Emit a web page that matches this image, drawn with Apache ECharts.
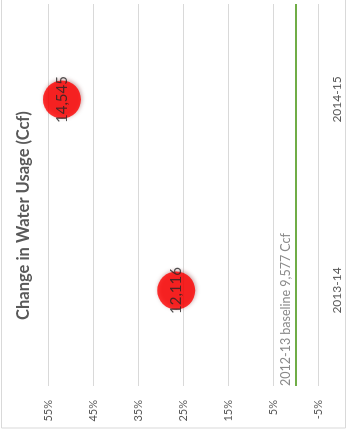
<!DOCTYPE html>
<html>
<head>
<meta charset="utf-8">
<script src="https://cdn.jsdelivr.net/npm/echarts@6/dist/echarts.min.js"></script>
<style>
html,body{margin:0;padding:0;background:#fff;overflow:hidden;width:348px;height:431px;}
#chart{position:absolute;left:0;top:0;width:431px;height:348px;transform-origin:0 0;transform:translateY(431px) rotate(-90deg);}
</style>
</head>
<body>
<div id="chart"></div>
<script>
// Data
var titleText = 'Change in Water Usage (Ccf)';
var categories = ['2013-14', '2014-15'];
var pctChange = [26.5, 51.9];          // % change vs 2012-13 baseline
var usageCcf = [12116, 14545];         // point labels (Ccf)
var baselineValue = 0;
var baselineLabel = '2012-13 baseline 9,577 Ccf';
var axisMin = -5, axisMax = 55, axisStep = 10;

var chart = echarts.init(document.getElementById('chart'), null, {renderer: 'canvas'});
var font = 'Lato';
chart.setOption({
  backgroundColor: '#ffffff',
  animation: false,
  title: {
    text: titleText,
    left: 'center',
    top: 10,
    textStyle: {fontFamily: font, fontSize: 16.5, fontWeight: 'bold', color: '#595959'}
  },
  graphic: [{
    type: 'rect', silent: true,
    shape: {x: 3, y: 1.5, width: 440, height: 344},
    style: {fill: 'none', stroke: '#d9d9d9', lineWidth: 1}
  }],
  grid: {left: 45, right: 4, top: 48, bottom: 30},
  xAxis: {
    type: 'category',
    data: categories,
    boundaryGap: true,
    axisLine: {show: false},
    axisTick: {show: false},
    axisLabel: {margin: 13, fontFamily: font, fontSize: 12, color: '#595959'}
  },
  yAxis: {
    type: 'value',
    min: axisMin, max: axisMax, interval: axisStep,
    axisLine: {show: false},
    axisTick: {show: false},
    axisLabel: {margin: 14, fontFamily: font, fontSize: 11, color: '#595959', formatter: '{value}%'},
    splitLine: {lineStyle: {color: '#d9d9d9', width: 1}}
  },
  series: [{
    type: 'scatter',
    data: pctChange,
    symbol: 'circle',
    symbolSize: 38,
    itemStyle: {color: '#ff0000', shadowBlur: 4, shadowColor: 'rgba(110,0,0,0.45)', shadowOffsetX: 1, shadowOffsetY: 1},
    label: {
      show: true, position: 'inside',
      fontFamily: font, fontSize: 15, color: '#262626',
      formatter: function (p) { return usageCcf[p.dataIndex].toLocaleString('en-US'); }
    },
    markLine: {
      silent: true,
      symbol: 'none',
      lineStyle: {color: '#70ad47', width: 2, type: 'solid'},
      label: {
        show: true, position: 'insideStartTop', distance: [0, 3],
        formatter: baselineLabel,
        fontFamily: font, fontSize: 12.5, color: '#8a8a8a'
      },
      data: [{yAxis: baselineValue}]
    }
  }]
});
</script>
</body>
</html>
